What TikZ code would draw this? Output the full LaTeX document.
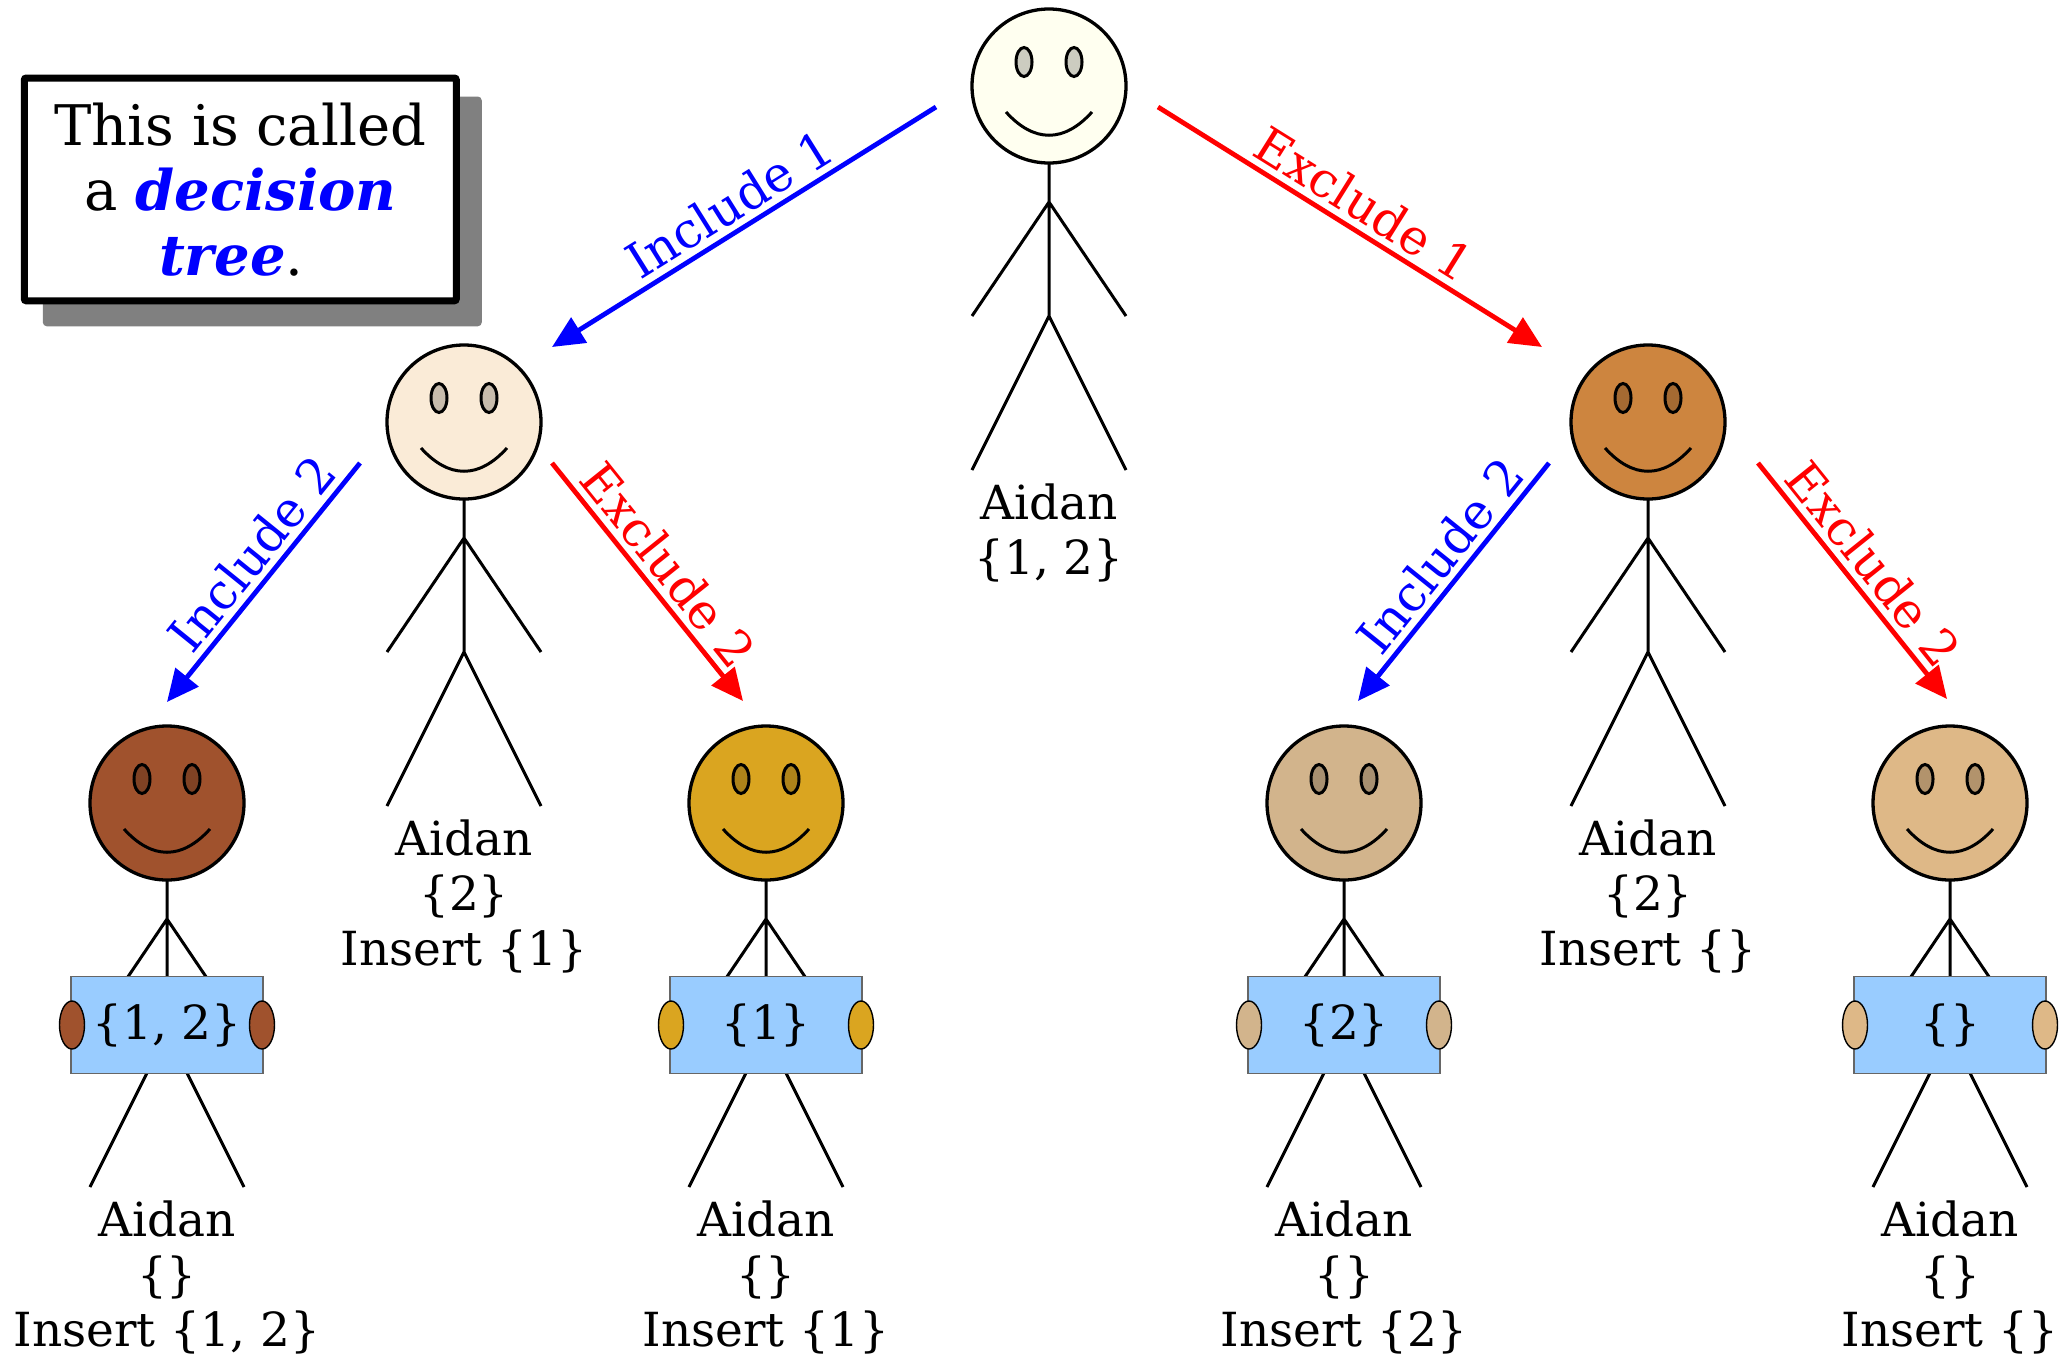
\documentclass[tikz,border=0pt]{standalone}
\usepackage{fontspec}
\setmainfont{DejaVu Serif}
\usetikzlibrary{calc,arrows.meta,backgrounds}
\definecolor{skinivory}{HTML}{FFFFF0}
\definecolor{skinantique}{HTML}{FAEBD7}
\definecolor{skinperu}{HTML}{CD853F}
\definecolor{skinsienna}{HTML}{A0522D}
\definecolor{skingold}{HTML}{DAA520}
\definecolor{skintan}{HTML}{D2B48C}
\definecolor{skinwood}{HTML}{DEB887}
\definecolor{boardblue}{HTML}{99CCFF}
\tikzset{
  face/.style   ={circle, draw, line width=1.65pt, minimum size=77pt, inner sep=0pt},
  feature/.style={line width=1.5pt},
  limb/.style   ={line width=1.5pt},
  board/.style  ={draw=black!60, line width=0.75pt, fill=boardblue, inner sep=0pt,
                  minimum width=96pt, minimum height=48.5pt,
                  font=\fontsize{23.5}{27.5}\selectfont},
  hand/.style   ={draw, line width=0.7pt},
  who/.style    ={anchor=north, align=center, inner sep=0pt,
                  font=\fontsize{23.5}{27.5}\selectfont},
  branch/.style ={line width=2.4pt, -{Triangle[length=16pt, width=14.5pt]}},
  incl/.style   ={branch, blue},
  excl/.style   ={branch, red},
  tag/.style    ={sloped, above, inner sep=3pt, font=\fontsize{24.5}{28}\selectfont},
  note/.style   ={draw, line width=3.5pt, fill=white, rounded corners=1pt,
                  minimum width=216pt, minimum height=111.4pt, align=center,
                  font=\fontsize{28}{32.5}\selectfont},
}
% one stick figure: name, head centre, skin colour, caption
\newcommand{\aidan}[4]{%
  \begin{scope}[shift={(#2)}]
    \draw[limb] (0,77) -- (0,230) (-77,230) -- (0,116) -- (77,230)
                (-77,384) -- (0,230) -- (77,384);
    \node[face, fill=#3] (#1) at (0,0) {};
    \draw[feature, fill=#3!80!black] (-25,-24) ellipse (8 and 14.5)
                                     (25,-24) ellipse (8 and 14.5);
    \draw[feature] (-43,26) .. controls (-15,57) and (15,57) .. (43,26);
    \node[who] (#1-who) at (0,397) {#4};
  \end{scope}}
% the board a figure holds: figure name, skin colour, set
\newcommand{\holdboard}[3]{%
  \node[board] (#1-board) at ($(#1)+(0,222)$) {#3};
  \draw[hand, fill=#2] ($(#1)+(-95,222)$) ellipse (12.5 and 24)
                       ($(#1)+(95,222)$) ellipse (12.5 and 24);}

\begin{document}
\begin{tikzpicture}[x=0.5pt, y=-0.5pt]
  \useasboundingbox (0,0) rectangle (2066,1355);

  \node[note] (note) at (240.3,189.4)
        {This is called\\a \textcolor{blue}{\textbf{\textit{decision}}}\\
         \textcolor{blue}{\textbf{\textit{tree}}}.\hspace*{9pt}};
  \begin{scope}[on background layer]
    \fill[black!50, rounded corners=2pt]
      ($(note.north west)+(22,22)$) rectangle ($(note.south east)+(22,22)$);
  \end{scope}

  % the tree
  \aidan{top}{1049,86}{skinivory}{Aidan\\\{1, 2\}}
  \aidan{left}{464,422}{skinantique}{Aidan\\\{2\}\\Insert \{1\}}
  \aidan{right}{1648,422}{skinperu}{Aidan\\\{2\}\\Insert \{\}}
  \aidan{ll}{167,803}{skinsienna}{Aidan\\\{\}\\Insert \{1, 2\}}
  \aidan{lr}{766,803}{skingold}{Aidan\\\{\}\\Insert \{1\}}
  \aidan{rl}{1344,803}{skintan}{Aidan\\\{\}\\Insert \{2\}}
  \aidan{rr}{1950,803}{skinwood}{Aidan\\\{\}\\Insert \{\}}

  \holdboard{ll}{skinsienna}{\{1, 2\}}
  \holdboard{lr}{skingold}{\{1\}}
  \holdboard{rl}{skintan}{\{2\}}
  \holdboard{rr}{skinwood}{\{\}}

  % branches
  \draw[incl] ($(top)+(-113,21)$) -- node[tag] {Include 1} ($(left)+(88,-75)$);
  \draw[excl] ($(top)+(109,21)$) -- node[tag] {Exclude 1} ($(right)+(-106,-75)$);
  \draw[incl] ($(left)+(-104,41)$) -- node[tag, pos=.45] {Include 2} ($(ll)+(0,-101)$);
  \draw[excl] ($(left)+(88,41)$) -- node[tag] {Exclude 2} ($(lr)+(-23,-102)$);
  \draw[incl] ($(right)+(-99,41)$) -- node[tag, pos=.46] {Include 2} ($(rl)+(14,-102)$);
  \draw[excl] ($(right)+(110,41)$) -- node[tag] {Exclude 2} ($(rr)+(-3,-104)$);
\end{tikzpicture}
\end{document}
